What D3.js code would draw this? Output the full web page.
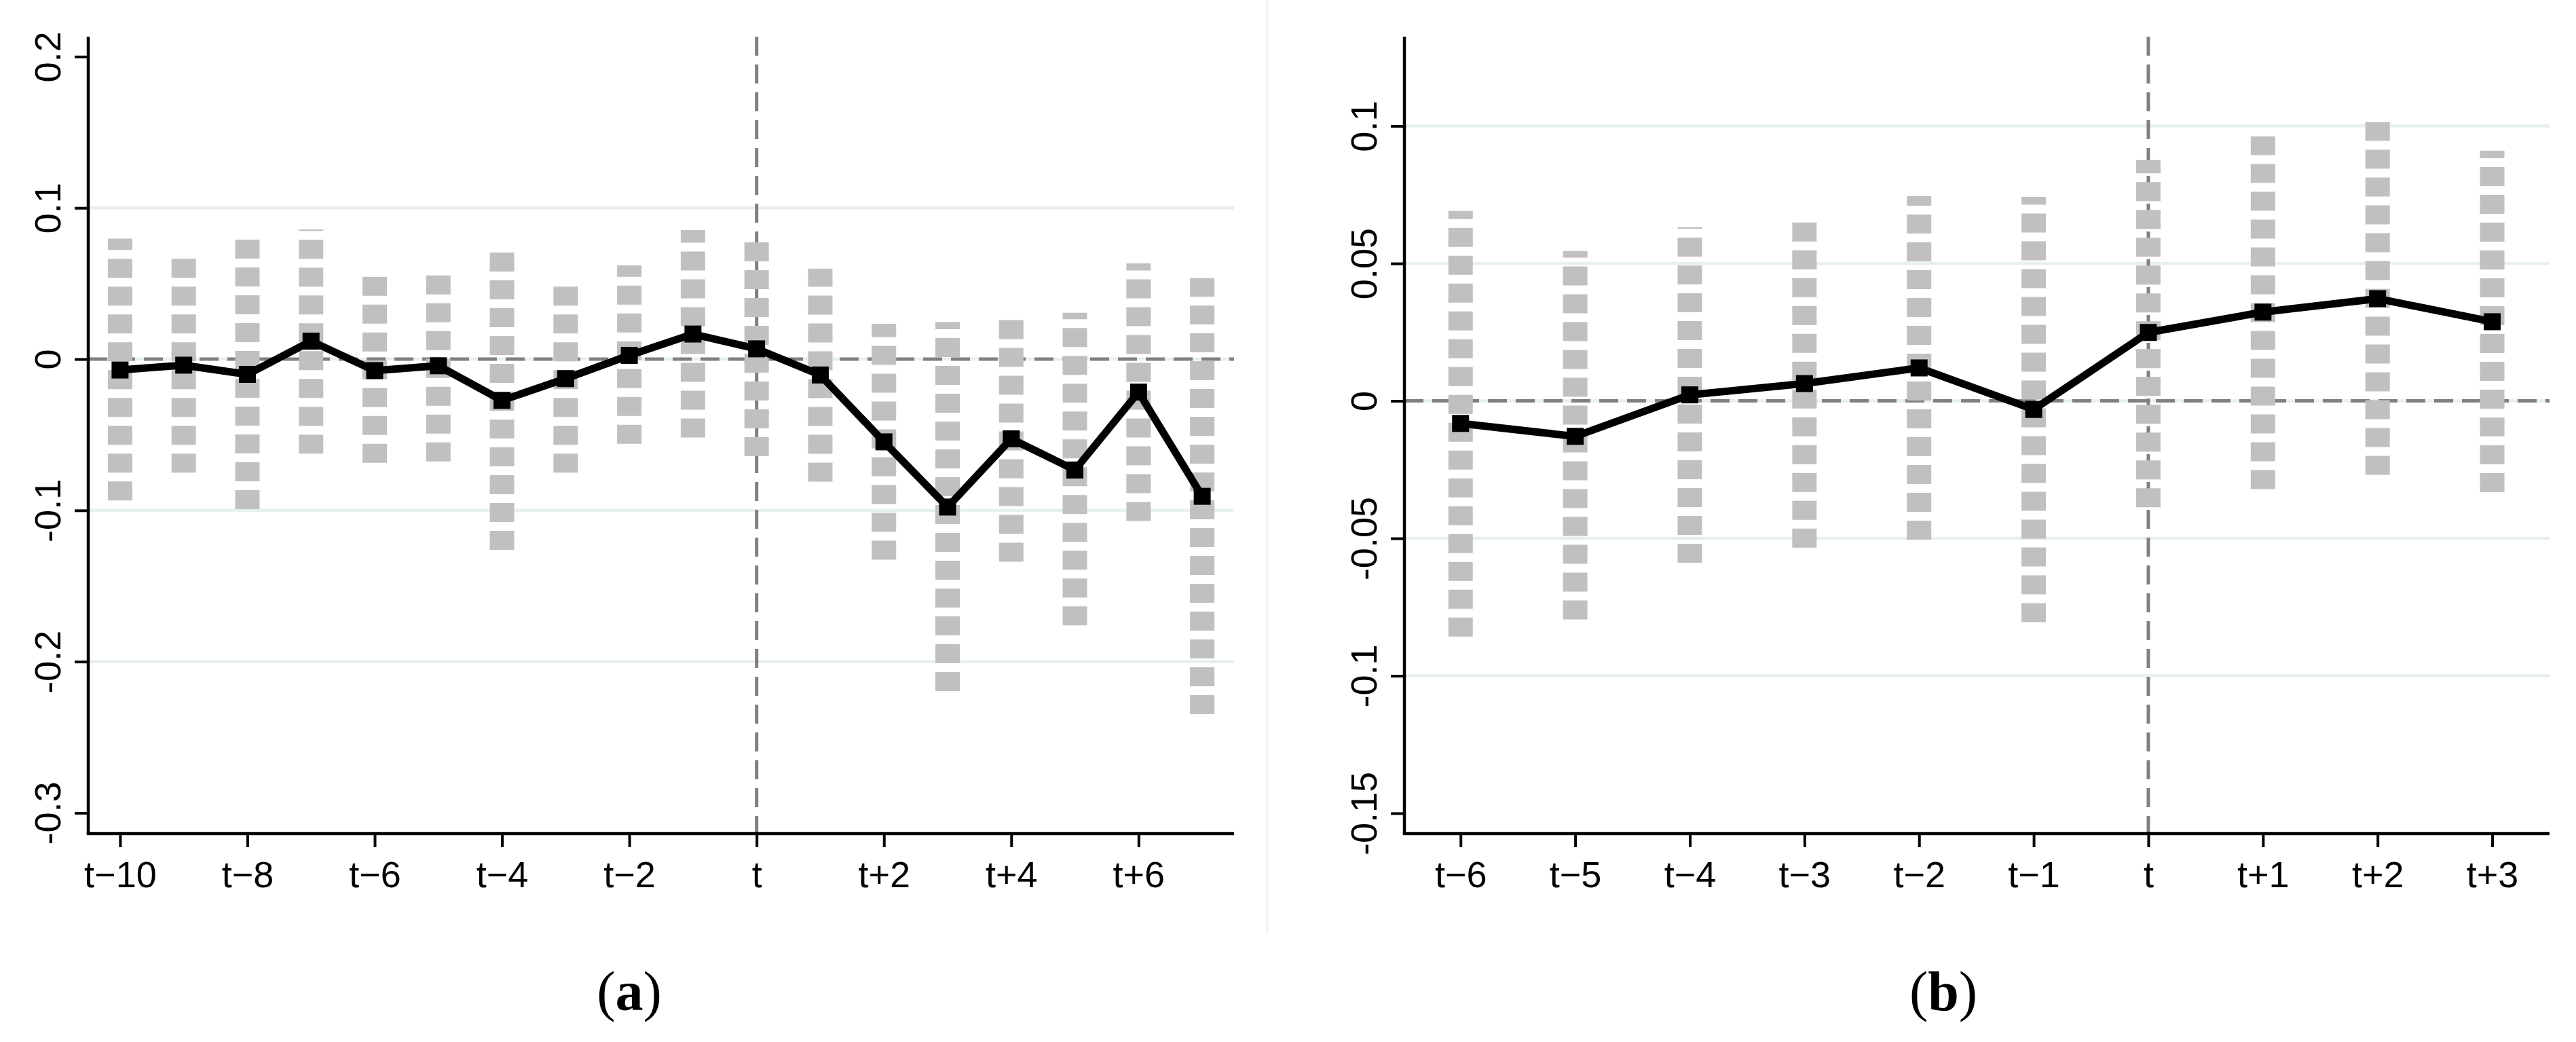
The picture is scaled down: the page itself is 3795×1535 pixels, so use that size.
<!DOCTYPE html>
<html>
<head>
<meta charset="utf-8">
<script src="https://cdn.jsdelivr.net/npm/d3@7"></script>
<style>
  html, body { margin: 0; padding: 0; background: #ffffff; }
  svg { display: block; }
</style>
</head>
<body>
<script>
// ---------------- DATA ----------------
// Panel (a)
const relA  = [-10, -9, -8, -7, -6, -5, -4, -3, -2, -1, 0, 1, 2, 3, 4, 5, 6, 7];
const coefA = [-0.0072, -0.0040, -0.0101, 0.0119, -0.0076, -0.0044, -0.0273, -0.0129, 0.0025, 0.0166,
               0.0068, -0.0105, -0.0547, -0.0978, -0.0527, -0.0733, -0.0218, -0.0907];
const loA   = [-0.0934, -0.0751, -0.0992, -0.0625, -0.0685, -0.0676, -0.1261, -0.0750, -0.0560, -0.0518,
               -0.0642, -0.0810, -0.1326, -0.2195, -0.1340, -0.1760, -0.1070, -0.2347];
const hiA   = [0.0797, 0.0664, 0.0790, 0.0857, 0.0543, 0.0556, 0.0709, 0.0480, 0.0620, 0.0853,
               0.0776, 0.0598, 0.0234, 0.0246, 0.0266, 0.0306, 0.0633, 0.0535];
const xTicksA      = [-10, -8, -6, -4, -2, 0, 2, 4, 6];
const xTickLabelsA = ["t\u221210", "t\u22128", "t\u22126", "t\u22124", "t\u22122", "t", "t+2", "t+4", "t+6"];
const yTicksA      = [0.2, 0.1, 0, -0.1, -0.2, -0.3];
const yTickLabelsA = ["0.2", "0.1", "0", "-0.1", "-0.2", "-0.3"];
const gridA        = [0.1, 0, -0.1, -0.2];
const captionA     = ["(", "a", ")"];

// Panel (b)
const relB  = [-6, -5, -4, -3, -2, -1, 0, 1, 2, 3];
const coefB = [-0.0082, -0.0129, 0.0022, 0.0063, 0.0120, -0.0031, 0.0249, 0.0323, 0.0372, 0.0288];
const loB   = [-0.0857, -0.0795, -0.0589, -0.0534, -0.0505, -0.0805, -0.0387, -0.0321, -0.0269, -0.0332];
const hiB   = [0.0691, 0.0545, 0.0632, 0.0654, 0.0745, 0.0742, 0.0876, 0.0962, 0.1014, 0.0910];
const xTicksB      = [-6, -5, -4, -3, -2, -1, 0, 1, 2, 3];
const xTickLabelsB = ["t\u22126", "t\u22125", "t\u22124", "t\u22123", "t\u22122", "t\u22121", "t", "t+1", "t+2", "t+3"];
const yTicksB      = [0.1, 0.05, 0, -0.05, -0.1, -0.15];
const yTickLabelsB = ["0.1", "0.05", "0", "-0.05", "-0.1", "-0.15"];
const gridB        = [0.1, 0.05, 0, -0.05, -0.1];
const captionB     = ["(", "b", ")"];

// ---------------- LAYOUT ----------------
const W = 3795, H = 1535;
const svg = d3.select("body").append("svg")
  .attr("width", W).attr("height", H)
  .attr("viewBox", `0 0 ${W} ${H}`);
svg.append("rect").attr("width", W).attr("height", H).attr("fill", "#ffffff");

// light separator between panels
svg.append("line")
  .attr("x1", 1867).attr("x2", 1867).attr("y1", 0).attr("y2", 1376)
  .attr("stroke", "#eeeeee").attr("stroke-width", 2);

const FONT = "'Liberation Sans', Arial, Helvetica, sans-serif";
const SERIF = "'Liberation Serif', 'Times New Roman', Times, serif";

function panel(cfg) {
  const { left, right, top, bottom, xDom, yDom, rel, coef, lo, hi,
          xTicks, xLabels, yTicks, yLabels, grid, caption, capX } = cfg;
  const x = d3.scaleLinear().domain(xDom).range([left, right]);
  const y = d3.scaleLinear().domain(yDom).range([bottom, top]);
  const g = svg.append("g");

  // gridlines
  g.append("g").selectAll("line").data(grid).join("line")
    .attr("x1", left).attr("x2", right)
    .attr("y1", d => y(d)).attr("y2", d => y(d))
    .attr("stroke", "#e7eff1").attr("stroke-width", 4.5);

  // reference lines
  g.append("line")
    .attr("x1", left).attr("x2", right).attr("y1", y(0)).attr("y2", y(0))
    .attr("stroke", "#808080").attr("stroke-width", 5).attr("stroke-dasharray", "28,13");
  g.append("line")
    .attr("x1", x(0)).attr("x2", x(0)).attr("y1", top).attr("y2", bottom)
    .attr("stroke", "#808080").attr("stroke-width", 5).attr("stroke-dasharray", "28,13");

  // confidence intervals (thick dashed spikes, from lower to upper)
  g.append("g").selectAll("line").data(rel).join("line")
    .attr("x1", d => x(d)).attr("x2", d => x(d))
    .attr("y1", (d, i) => y(lo[i])).attr("y2", (d, i) => y(hi[i]))
    .attr("stroke", "#c0c0c0").attr("stroke-width", 36)
    .attr("stroke-dasharray", "28,13").attr("stroke-linecap", "butt");

  // coefficient line
  const pts = rel.map((d, i) => [x(d), y(coef[i])]);
  g.append("path").attr("d", d3.line()(pts))
    .attr("fill", "none").attr("stroke", "#000000").attr("stroke-width", 11)
    .attr("stroke-linejoin", "round");
  g.append("g").selectAll("rect").data(pts).join("rect")
    .attr("x", d => d[0] - 12.5).attr("y", d => d[1] - 12.5)
    .attr("width", 25).attr("height", 25).attr("fill", "#000000");

  // y axis
  const yAxis = d3.axisLeft(y).tickValues(yTicks)
    .tickFormat((d, i) => yLabels[i]).tickSize(20).tickSizeOuter(0);
  const ya = g.append("g").attr("transform", `translate(${left},0)`).call(yAxis);
  ya.select(".domain").attr("stroke", "#000").attr("stroke-width", 4.5)
    .attr("d", `M0,${top}V${bottom}`);
  ya.selectAll(".tick line").attr("stroke", "#000").attr("stroke-width", 4);
  ya.selectAll(".tick text")
    .attr("transform", "rotate(-90)")
    .attr("x", 0).attr("y", -41).attr("dy", 0)
    .attr("text-anchor", "middle")
    .attr("font-family", FONT).attr("font-size", 54).attr("fill", "#000");

  // x axis
  const xAxis = d3.axisBottom(x).tickValues(xTicks)
    .tickFormat((d, i) => xLabels[i]).tickSize(20).tickSizeOuter(0);
  const xa = g.append("g").attr("transform", `translate(0,${bottom})`).call(xAxis);
  xa.select(".domain").attr("stroke", "#000").attr("stroke-width", 4.5)
    .attr("d", `M${left - 2.25},0H${right}`);
  xa.selectAll(".tick line").attr("stroke", "#000").attr("stroke-width", 4);
  xa.selectAll(".tick text")
    .attr("y", 79).attr("dy", 0)
    .attr("font-family", FONT).attr("font-size", 54).attr("fill", "#000");

  // caption
  const t = svg.append("text")
    .attr("x", capX).attr("y", 1488)
    .attr("text-anchor", "middle")
    .attr("font-family", SERIF).attr("font-size", 82).attr("fill", "#000");
  t.selectAll("tspan").data(caption).join("tspan")
    .attr("font-weight", (d, i) => i === 1 ? "bold" : "normal")
    .text(d => d);
}

panel({
  left: 130, right: 1818, top: 54, bottom: 1228,
  xDom: [-10.5, 7.5], yDom: [-0.3137, 0.2132],
  rel: relA, coef: coefA, lo: loA, hi: hiA,
  xTicks: xTicksA, xLabels: xTickLabelsA,
  yTicks: yTicksA, yLabels: yTickLabelsA,
  grid: gridA, caption: captionA, capX: 927
});

panel({
  left: 2069, right: 3756, top: 54, bottom: 1228,
  xDom: [-6.49, 3.5], yDom: [-0.1574, 0.1325],
  rel: relB, coef: coefB, lo: loB, hi: hiB,
  xTicks: xTicksB, xLabels: xTickLabelsB,
  yTicks: yTicksB, yLabels: yTickLabelsB,
  grid: gridB, caption: captionB, capX: 2863
});
</script>
</body>
</html>
